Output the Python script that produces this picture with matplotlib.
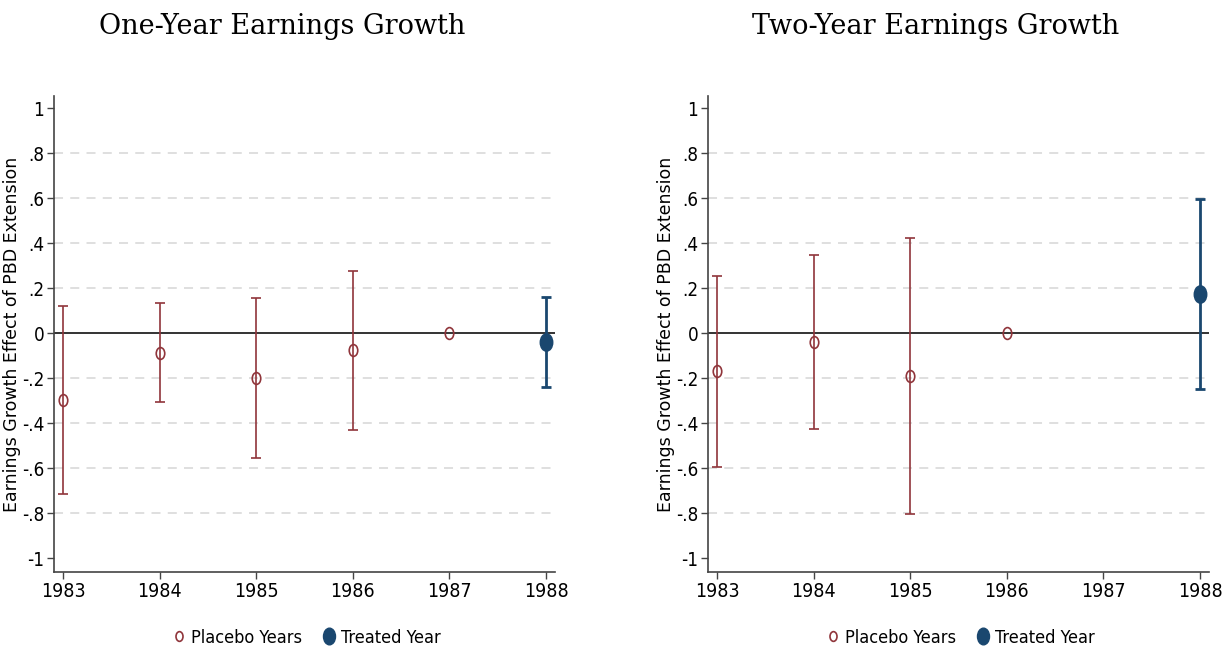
import numpy as np
import matplotlib
matplotlib.use("Agg")
import matplotlib.pyplot as plt
from matplotlib.markers import MarkerStyle
from matplotlib.transforms import Affine2D
from matplotlib.lines import Line2D

# event-study estimates, placebo years vs treated year
years = [1983, 1984, 1985, 1986, 1987, 1988]

one_coef = [-0.296, -0.087, -0.200, -0.074, 0.0, -0.037]
one_lo = [-0.714, -0.304, -0.556, -0.428, 0.0, -0.237]
one_hi = [0.121, 0.135, 0.158, 0.277, 0.0, 0.163]
one_treated = [False, False, False, False, False, True]

two_years = [1983, 1984, 1985, 1986, 1988]
two_coef = [-0.168, -0.037, -0.190, 0.0, 0.175]
two_lo = [-0.593, -0.425, -0.803, 0.0, -0.249]
two_hi = [0.256, 0.347, 0.425, 0.0, 0.597]
two_treated = [False, False, False, False, True]

yticks = [-1, -0.8, -0.6, -0.4, -0.2, 0, 0.2, 0.4, 0.6, 0.8, 1]
ytick_labels = ["-1", "-.8", "-.6", "-.4", "-.2", "0", ".2", ".4", ".6", ".8", "1"]

RED = "#90353b"
BLUE = "#1a476f"
narrow = dict(family="DejaVu Sans", stretch="condensed")

ellipse = MarkerStyle("o", fillstyle="full", transform=Affine2D().scale(0.72, 1.0))
ring = MarkerStyle("o", fillstyle="none", transform=Affine2D().scale(0.72, 1.0))

fig = plt.figure(figsize=(12.28, 6.54), dpi=100)
ax1 = fig.add_axes([54 / 1228, 1 - 572 / 654, 501 / 1228, 476 / 654])
ax2 = fig.add_axes([708 / 1228, 1 - 572 / 654, 501 / 1228, 476 / 654])


def draw_panel(ax, xs, coef, lo, hi, treated):
    for g in [-0.8, -0.6, -0.4, -0.2, 0.2, 0.4, 0.6, 0.8]:
        ax.axhline(g, color="#dcdcdc", lw=1.3, ls=(0, (5, 4)), zorder=0)
    ax.axhline(0, color="#333333", lw=1.4, zorder=1)
    for x, c, l, h, t in zip(xs, coef, lo, hi, treated):
        col = BLUE if t else RED
        if h != l:
            ax.errorbar([x], [c], yerr=[[c - l], [h - c]], fmt="none",
                        ecolor=col, elinewidth=2.0 if t else 1.2,
                        capsize=3.6, capthick=2.0 if t else 1.2, zorder=2)
        if t:
            ax.plot([x], [c], marker=ellipse, ms=12.5, color=col, ls="none", zorder=3)
        else:
            ax.plot([x], [c], marker=ring, ms=8.5, mew=1.2, color=col,
                    ls="none", zorder=3)
    ax.set_xlim(1982.907, 1988.093)
    ax.set_ylim(-1.061, 1.055)
    ax.set_xticks(years)
    ax.set_xticklabels([str(y) for y in years], fontsize=14, **narrow)
    ax.set_yticks(yticks)
    ax.set_yticklabels(ytick_labels, fontsize=13.5, **narrow)
    for s in ["top", "right"]:
        ax.spines[s].set_visible(False)
    for s in ["left", "bottom"]:
        ax.spines[s].set_color("#444444")
        ax.spines[s].set_linewidth(1.2)
    ax.tick_params(axis="both", colors="#444444", labelcolor="black",
                   length=5, width=1.0, pad=2)
    ax.set_ylabel("Earnings Growth Effect of PBD Extension", fontsize=12.5,
                  family="DejaVu Sans")
    ax.yaxis.set_label_coords(-0.066, 0.5)
    handles = [
        Line2D([], [], marker=ring, ms=7, mew=1.2, color=RED, ls="none"),
        Line2D([], [], marker=ellipse, ms=12, color=BLUE, ls="none"),
    ]
    ax.legend(handles, ["Placebo Years", "Treated Year"], loc="upper center",
              bbox_to_anchor=(0.5, -0.085), ncol=2, frameon=False,
              prop=dict(size=13, **narrow), handletextpad=0.05,
              columnspacing=0.9, handlelength=1.2)


draw_panel(ax1, years, one_coef, one_lo, one_hi, one_treated)
draw_panel(ax2, two_years, two_coef, two_lo, two_hi, two_treated)

fig.text(282 / 1228, 1 - 26 / 654, "One-Year Earnings Growth", ha="center",
         va="center", family="DejaVu Serif", fontsize=19.5)
fig.text(936 / 1228, 1 - 26 / 654, "Two-Year Earnings Growth", ha="center",
         va="center", family="DejaVu Serif", fontsize=19.5)

fig.savefig("out.png", dpi=100, facecolor="white")
